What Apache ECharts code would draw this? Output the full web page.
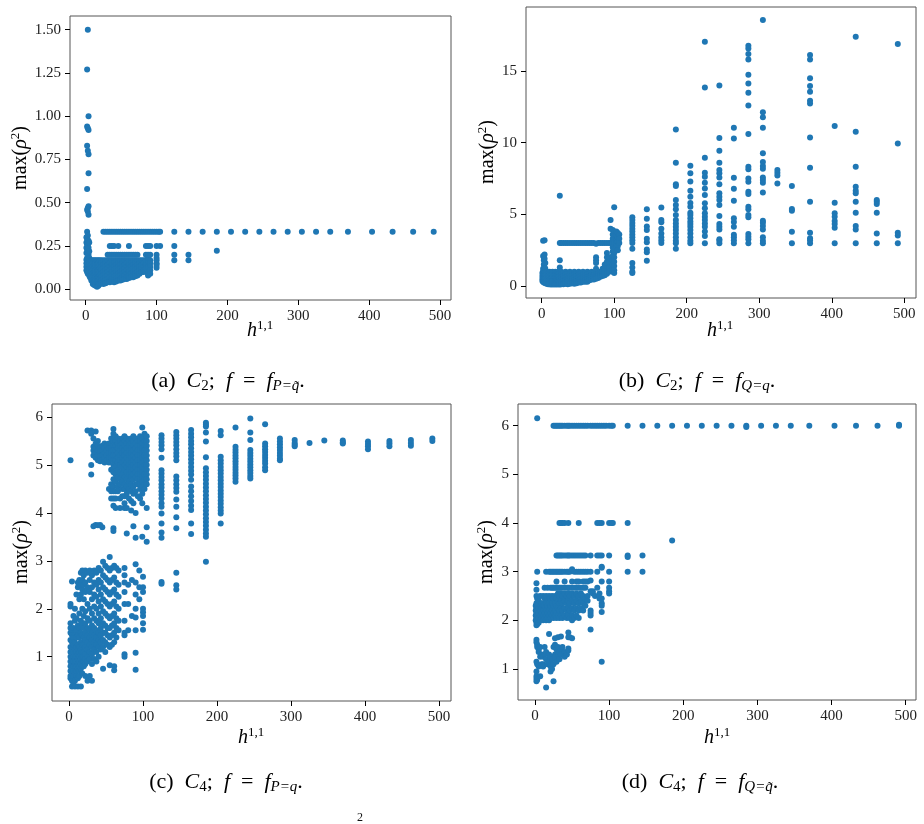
<!DOCTYPE html>
<html>
<head>
<meta charset="utf-8">
<script src="https://cdn.jsdelivr.net/npm/echarts@6/dist/echarts.min.js"></script>
<style>
  html, body { margin: 0; padding: 0; background: #fff; }
  #chart { width: 924px; height: 824px; }
</style>
</head>
<body>
<div id="chart"></div>
<script>
// each entry: [h11, [max(rho^2) values seen in that column]]
const colsA = [
  [1, [0.30, 0.27, 0.24, 0.21, 0.17, 0.15, 0.13, 0.11]],
  [2, [1.27, 0.94, 0.83, 0.58, 0.46, 0.333, 0.29, 0.26, 0.22, 0.18, 0.16, 0.14, 0.12, 0.10]],
  [3, [1.50, 0.93, 0.80, 0.47, 0.45, 0.31, 0.25, 0.21, 0.17, 0.15, 0.13, 0.11, 0.09]],
  [4, [1.00, 0.92, 0.78, 0.67, 0.48, 0.43, 0.28, 0.24, 0.20, 0.167, 0.14, 0.12, 0.10]],
  [5, [0.27, 0.22, 0.18, 0.16, 0.14, 0.12, 0.10, 0.08]],
  [6, [0.167, 0.15, 0.13, 0.11, 0.09, 0.07]],
  [8, [0.167, 0.14, 0.12, 0.10, 0.08, 0.06, 0.05]],
  [10, [0.167, 0.15, 0.13, 0.11, 0.09, 0.07, 0.05, 0.03]],
  [12, [0.167, 0.14, 0.12, 0.10, 0.08, 0.06, 0.04, 0.025]],
  [14, [0.167, 0.15, 0.13, 0.11, 0.09, 0.07, 0.05, 0.03, 0.02]],
  [16, [0.167, 0.14, 0.12, 0.10, 0.08, 0.06, 0.04, 0.015]],
  [18, [0.167, 0.15, 0.13, 0.11, 0.09, 0.07, 0.05, 0.03, 0.02]],
  [20, [0.167, 0.14, 0.12, 0.10, 0.08, 0.06, 0.04, 0.03]],
  [22, [0.167, 0.15, 0.13, 0.11, 0.09, 0.07, 0.05, 0.035]],
  [25, [0.333, 0.167, 0.14, 0.12, 0.10, 0.08, 0.06, 0.04, 0.03]],
  [28, [0.333, 0.167, 0.15, 0.13, 0.11, 0.09, 0.07, 0.05, 0.035]],
  [31, [0.333, 0.20, 0.167, 0.14, 0.12, 0.10, 0.08, 0.06, 0.04]],
  [34, [0.333, 0.25, 0.20, 0.167, 0.15, 0.13, 0.11, 0.09, 0.07, 0.05, 0.04]],
  [37, [0.333, 0.25, 0.20, 0.167, 0.14, 0.12, 0.10, 0.08, 0.06, 0.045]],
  [40, [0.333, 0.25, 0.20, 0.167, 0.15, 0.13, 0.11, 0.09, 0.07, 0.05, 0.04]],
  [43, [0.333, 0.20, 0.167, 0.14, 0.12, 0.10, 0.08, 0.06, 0.045]],
  [46, [0.333, 0.25, 0.20, 0.167, 0.15, 0.13, 0.11, 0.09, 0.07, 0.05]],
  [49, [0.333, 0.20, 0.167, 0.14, 0.12, 0.10, 0.08, 0.06, 0.05]],
  [52, [0.333, 0.20, 0.167, 0.15, 0.13, 0.11, 0.09, 0.07, 0.055]],
  [55, [0.333, 0.20, 0.167, 0.14, 0.12, 0.10, 0.08, 0.06]],
  [58, [0.333, 0.20, 0.167, 0.15, 0.13, 0.11, 0.09, 0.07, 0.06]],
  [61, [0.333, 0.25, 0.20, 0.167, 0.14, 0.12, 0.10, 0.08, 0.065]],
  [64, [0.333, 0.20, 0.167, 0.15, 0.13, 0.11, 0.09, 0.07]],
  [67, [0.333, 0.20, 0.167, 0.14, 0.12, 0.10, 0.08, 0.07]],
  [70, [0.333, 0.20, 0.167, 0.15, 0.13, 0.11, 0.09, 0.075]],
  [73, [0.333, 0.20, 0.167, 0.14, 0.12, 0.10, 0.08]],
  [76, [0.333, 0.167, 0.15, 0.13, 0.11, 0.09]],
  [79, [0.333, 0.167, 0.14, 0.12, 0.10]],
  [82, [0.333, 0.167, 0.15, 0.13, 0.11, 0.10]],
  [85, [0.333, 0.25, 0.20, 0.167, 0.14, 0.12]],
  [88, [0.333, 0.25, 0.20, 0.18, 0.167, 0.15, 0.13, 0.09, 0.08]],
  [91, [0.333, 0.25, 0.20, 0.167, 0.15, 0.13, 0.11, 0.09]],
  [94, [0.333]],
  [97, [0.333]],
  [100, [0.333, 0.25, 0.20, 0.18, 0.167, 0.15, 0.14, 0.125]],
  [103, [0.333]],
  [105, [0.333, 0.25]],
  [125, [0.333, 0.25, 0.20, 0.167]],
  [145, [0.333, 0.20, 0.167]],
  [165, [0.333]],
  [185, [0.333, 0.222]],
  [205, [0.333]], [225, [0.333]], [245, [0.333]], [265, [0.333]],
  [285, [0.333]], [305, [0.333]], [325, [0.333]], [345, [0.333]],
  [370, [0.333]], [404, [0.333]], [433, [0.333]], [462, [0.333]], [491, [0.333]]
];

const colsB = [
  [1, [0.9, 0.7, 0.5, 0.35]],
  [2, [3.15, 2.1, 1.2, 1.0, 0.8, 0.6, 0.45, 0.3]],
  [3, [2.0, 1.8, 1.5, 1.1, 0.9, 0.7, 0.5, 0.35, 0.25]],
  [4, [3.2, 2.2, 1.9, 1.3, 1.0, 0.8, 0.6, 0.4, 0.3]],
  [5, [1.6, 1.2, 0.9, 0.7, 0.5, 0.3, 0.2]],
  [7, [1.0, 0.8, 0.6, 0.4, 0.25, 0.15]],
  [9, [0.9, 0.7, 0.5, 0.35, 0.2, 0.12]],
  [11, [1.0, 0.8, 0.6, 0.4, 0.25, 0.12]],
  [13, [0.9, 0.7, 0.5, 0.35, 0.2, 0.1]],
  [15, [1.0, 0.8, 0.6, 0.4, 0.25, 0.12]],
  [17, [0.9, 0.7, 0.5, 0.35, 0.2, 0.1]],
  [19, [1.0, 0.8, 0.6, 0.4, 0.25, 0.12]],
  [21, [0.9, 0.7, 0.5, 0.35, 0.2, 0.1]],
  [23, [1.0, 0.8, 0.6, 0.4, 0.25, 0.12]],
  [25, [6.3, 3.0, 1.8, 1.3, 0.9, 0.7, 0.5, 0.35, 0.2, 0.1]],
  [27, [3.0, 1.0, 0.8, 0.6, 0.4, 0.25, 0.12]],
  [30, [3.0, 0.9, 0.7, 0.5, 0.35, 0.2, 0.12]],
  [33, [3.0, 1.0, 0.8, 0.6, 0.4, 0.25, 0.15]],
  [36, [3.0, 0.9, 0.7, 0.5, 0.35, 0.2, 0.12]],
  [39, [3.0, 1.0, 0.8, 0.6, 0.4, 0.25, 0.15]],
  [42, [3.0, 0.9, 0.7, 0.5, 0.35, 0.2]],
  [45, [3.0, 1.0, 0.8, 0.6, 0.4, 0.25, 0.15]],
  [48, [3.0, 0.9, 0.7, 0.5, 0.35, 0.2]],
  [51, [3.0, 1.0, 0.8, 0.6, 0.4, 0.25]],
  [54, [3.0, 0.9, 0.7, 0.5, 0.35, 0.25]],
  [57, [3.0, 1.0, 0.8, 0.6, 0.45, 0.3]],
  [60, [3.0, 0.9, 0.7, 0.55, 0.4, 0.3]],
  [63, [3.0, 1.0, 0.8, 0.6, 0.45, 0.3]],
  [66, [3.0, 0.9, 0.7, 0.55, 0.4]],
  [69, [3.0, 1.0, 0.8, 0.6, 0.45]],
  [72, [3.0, 0.9, 0.75, 0.6, 0.45]],
  [75, [2.95, 2.0, 1.8, 1.6, 1.2, 1.0, 0.8, 0.65, 0.5]],
  [78, [3.0, 1.0, 0.85, 0.7, 0.55]],
  [81, [3.0, 1.0, 0.8, 0.65]],
  [84, [3.0, 1.2, 1.0, 0.8, 0.7]],
  [87, [3.0, 1.5, 1.3, 1.1, 0.9, 0.75]],
  [90, [3.0, 2.3, 2.0, 1.7, 1.5, 1.2, 1.0, 0.85]],
  [93, [3.0, 2.0, 1.6, 1.3, 1.0]],
  [95, [4.6, 4.0, 3.0]],
  [98, [3.9, 3.6, 3.3, 3.0, 2.7, 2.4, 2.1, 1.8, 1.5, 1.2, 1.0]],
  [100, [5.5, 3.8, 3.5, 3.2, 3.0, 2.6, 2.3, 2.0, 1.7, 1.4, 1.1, 0.9]],
  [103, [3.8, 3.5, 3.2, 3.0, 2.8]],
  [105, [3.7, 3.4, 3.1, 2.8, 2.5]],
  [107, [3.6, 3.3, 3.0]],
  [125, [4.8, 4.6, 4.4, 4.2, 4.0, 3.8, 3.6, 3.4, 3.2, 3.0, 2.6, 1.6, 1.3, 1.0, 0.9]],
  [145, [5.35, 4.7, 4.15, 3.9, 3.3, 3.05, 2.55, 2.35, 1.77]],
  [165, [5.47, 4.6, 4.45, 4.0, 3.67, 3.4, 3.2, 3.0]],
  [185, [10.93, 8.6, 7.1, 6.98, 6.0, 5.65, 5.35, 4.95, 4.6, 4.37, 4.14, 3.9, 3.67, 3.4, 3.16, 2.98, 2.6]],
  [205, [8.4, 7.86, 7.3, 6.65, 6.23, 5.8, 5.53, 5.12, 4.95, 4.72, 4.5, 4.33, 4.14, 3.9, 3.67, 3.4, 3.16, 2.98]],
  [225, [17.05, 13.86, 8.95, 7.9, 7.63, 7.2, 6.8, 6.35, 5.77, 5.42, 5.07, 4.84, 4.6, 4.37, 4.14, 3.81, 3.49, 2.98]],
  [245, [14.0, 10.33, 9.44, 8.6, 8.1, 7.86, 7.58, 7.1, 6.47, 6.23, 6.0, 5.65, 4.88, 4.33, 4.14, 3.95, 3.26, 3.16, 2.98]],
  [265, [11.05, 10.3, 7.56, 6.79, 5.95, 4.72, 4.47, 4.14, 3.58, 3.4, 3.2, 2.98]],
  [285, [16.77, 16.58, 16.19, 15.81, 14.74, 14.14, 13.49, 12.6, 10.6, 8.33, 8.14, 7.5, 7.28, 6.58, 6.42, 5.53, 5.35, 4.95, 4.79, 3.63, 3.44, 3.26, 2.98]],
  [305, [18.56, 12.12, 11.77, 11.05, 9.26, 8.65, 8.37, 8.19, 7.58, 7.4, 7.21, 6.53, 4.56, 4.42, 4.19, 3.95, 3.4, 3.16, 2.98]],
  [325, [8.09, 7.9, 7.72, 7.16]],
  [345, [6.98, 5.37, 5.26, 3.79, 2.98]],
  [370, [16.12, 15.81, 14.49, 13.95, 13.56, 12.93, 12.74, 10.37, 8.26, 5.88, 3.72, 3.33, 3.2, 2.98]],
  [404, [11.16, 5.81, 5.07, 4.84, 4.53, 4.33, 4.07, 2.98]],
  [433, [17.4, 10.77, 8.33, 6.93, 6.65, 6.47, 5.88, 5.12, 4.19, 3.95, 2.98]],
  [462, [6.0, 5.88, 5.72, 5.12, 3.67, 2.98]],
  [491, [16.88, 9.95, 3.72, 3.53, 2.98]]
];

const colsC = [
  [2, [5.1, 2.1, 2.05, 1.7, 1.6, 1.5, 1.35, 1.2, 1.1, 1.0, 0.9, 0.8, 0.7, 0.6, 0.55]],
  [4, [2.57, 1.55, 1.45, 1.3, 1.15, 1.05, 0.95, 0.85, 0.75, 0.65, 0.5, 0.38]],
  [6, [1.85, 1.6, 1.4, 1.25, 1.1, 1.0, 0.9, 0.8, 0.7, 0.6, 0.45]],
  [8, [2.0, 1.75, 1.5, 1.3, 1.15, 1.05, 0.95, 0.85, 0.75, 0.65, 0.5, 0.38]],
  [10, [2.3, 1.8, 1.55, 1.4, 1.2, 1.1, 1.0, 0.9, 0.8, 0.7, 0.6]],
  [12, [2.55, 2.45, 1.65, 1.45, 1.25, 1.15, 1.05, 0.95, 0.85, 0.75, 0.55, 0.38]],
  [14, [2.6, 2.2, 1.9, 1.6, 1.4, 1.2, 1.1, 1.0, 0.9, 0.8, 0.7, 0.6]],
  [16, [2.75, 2.5, 2.3, 1.75, 1.5, 1.3, 1.15, 1.05, 0.95, 0.85, 0.75, 0.38]],
  [18, [2.8, 2.6, 2.4, 2.0, 1.7, 1.45, 1.25, 1.1, 1.0, 0.9, 0.8, 0.65]],
  [20, [2.7, 2.5, 2.2, 1.85, 1.6, 1.4, 1.25, 1.1, 1.0, 0.9, 0.8]],
  [22, [2.8, 2.55, 2.35, 1.95, 1.7, 1.5, 1.35, 1.2, 1.05, 0.95, 0.85, 0.6]],
  [25, [5.72, 2.75, 2.45, 2.1, 1.8, 1.6, 1.45, 1.3, 1.15, 1.0, 0.9, 0.5]],
  [28, [2.8, 2.6, 2.35, 2.0, 1.75, 1.55, 1.4, 1.25, 1.1, 0.95, 0.6]],
  [30, [5.72, 5.65, 5.0, 4.8]],
  [31, [2.7, 2.45, 2.2, 1.9, 1.65, 1.5, 1.35, 1.2, 1.05, 0.85, 0.5]],
  [33, [5.55, 5.38, 5.3, 5.2, 3.72]],
  [34, [2.8, 2.55, 2.3, 2.05, 1.8, 1.6, 1.45, 1.3, 1.15, 0.95]],
  [36, [5.7, 5.45, 5.35, 5.25, 5.15, 3.75]],
  [37, [2.75, 2.5, 2.25, 2.0, 1.75, 1.55, 1.4, 1.25, 1.1, 0.9]],
  [39, [5.5, 5.4, 5.3, 5.2, 5.1, 3.74]],
  [40, [2.85, 2.6, 2.4, 2.15, 1.9, 1.7, 1.5, 1.35, 1.2, 1.0]],
  [42, [5.35, 5.28, 5.18, 5.08, 3.75]],
  [43, [2.8, 2.55, 2.3, 2.05, 1.8, 1.6, 1.45, 1.3, 1.15]],
  [45, [5.4, 5.3, 5.2, 5.1, 3.7]],
  [46, [2.98, 2.7, 2.45, 2.2, 1.95, 1.7, 1.5, 1.35, 1.2, 0.75]],
  [48, [5.45, 5.35, 5.25, 5.15, 5.05]],
  [49, [2.9, 2.65, 2.4, 2.15, 1.9, 1.65, 1.5, 1.3, 1.1]],
  [51, [5.4, 5.3, 5.2, 5.1]],
  [52, [2.85, 2.6, 2.35, 2.1, 1.85, 1.6, 1.45, 1.25]],
  [54, [5.45, 5.35, 5.25, 5.15, 5.05, 4.5]],
  [55, [3.08, 2.8, 2.55, 2.3, 2.05, 1.8, 1.6, 1.4, 1.2, 0.82]],
  [57, [5.55, 5.45, 5.35, 5.25, 5.15, 4.9, 4.6, 4.45, 4.3]],
  [58, [2.85, 2.6, 2.35, 2.1, 1.85, 1.65, 1.45, 1.25]],
  [60, [5.75, 5.65, 5.5, 5.4, 5.3, 5.2, 5.1, 5.0, 4.85, 4.7, 4.55, 4.45, 4.3, 4.15, 3.68, 3.62]],
  [61, [2.9, 2.65, 2.4, 2.15, 1.9, 1.7, 1.5, 1.3, 0.8, 0.72]],
  [63, [5.6, 5.5, 5.4, 5.3, 5.2, 5.1, 4.95, 4.8, 4.65, 4.45, 4.3, 4.1]],
  [64, [2.85, 2.55, 2.3, 2.05, 1.8, 1.6, 1.4]],
  [66, [5.55, 5.45, 5.35, 5.25, 5.15, 5.05, 4.9, 4.75, 4.55, 4.45]],
  [67, [2.8, 2.5, 2.25, 2.0, 1.75, 1.55]],
  [69, [5.5, 5.4, 5.3, 5.2, 5.1, 5.0, 4.85, 4.7, 4.6, 4.3, 4.1]],
  [72, [5.55, 5.45, 5.35, 5.25, 5.15, 5.05, 4.95, 4.8, 4.65, 4.5, 4.35]],
  [75, [5.6, 5.5, 5.4, 5.3, 5.2, 5.1, 5.0, 4.9, 4.75, 4.6, 4.5, 4.35, 4.2, 4.1,
        2.85, 2.7, 2.55, 2.35, 2.1, 1.75, 1.5, 1.45, 1.05, 1.0]],
  [78, [5.55, 5.45, 5.35, 5.25, 5.15, 5.05, 4.95, 4.85, 4.7, 4.55, 4.4, 4.1, 3.57]],
  [80, [2.5, 2.1, 1.55]],
  [81, [5.5, 5.4, 5.3, 5.2, 5.1, 5.0, 4.9, 4.8, 4.65, 4.5, 4.3]],
  [84, [5.55, 5.45, 5.35, 5.25, 5.15, 5.05, 4.95, 4.85, 4.75, 4.6, 4.45, 4.25, 4.05]],
  [85, [2.6, 1.85]],
  [87, [5.6, 5.5, 5.4, 5.3, 5.2, 5.1, 5.0, 4.9, 4.8, 4.7, 4.55, 4.4, 4.2, 3.72]],
  [90, [5.55, 5.45, 5.35, 5.25, 5.15, 5.05, 4.95, 4.85, 4.75, 4.6, 4.45, 4.0, 3.48,
        2.93, 2.55, 2.3, 2.0, 1.82, 1.55, 1.08, 0.73]],
  [93, [5.5, 5.4, 5.3, 5.2, 5.1, 5.0, 4.9, 4.8, 4.7, 4.6, 4.35]],
  [95, [2.8, 2.45, 2.2]],
  [96, [5.6, 5.5, 5.4, 5.3, 5.2, 5.1, 5.0, 4.9, 4.8, 4.7, 4.6, 4.5, 4.3]],
  [99, [5.78, 5.55, 5.45, 5.35, 5.25, 5.15, 5.05, 4.95, 4.85, 4.75, 4.65, 4.55, 4.4, 4.2, 3.5]],
  [100, [2.67, 2.45, 2.35, 2.0, 1.93, 1.85, 1.7, 1.56]],
  [102, [5.65, 5.5, 5.4, 5.3, 5.2, 5.1, 5.0, 4.9, 4.8, 4.7, 4.6, 4.5]],
  [105, [5.6, 5.5, 5.4, 5.3, 5.2, 5.1, 5.0, 4.9, 4.8, 4.7, 4.6, 4.1, 3.7, 3.4]],
  [125, [5.62, 5.55, 5.48, 5.41, 5.33, 5.15, 4.89, 4.82, 4.75, 4.68, 4.6, 4.53, 4.45, 4.38, 4.3, 4.2, 4.13, 3.99, 3.78, 3.59, 3.48, 2.56, 2.52]],
  [145, [5.69, 5.62, 5.55, 5.48, 5.41, 5.33, 5.25, 5.18, 5.1, 4.76, 4.68, 4.6, 4.52, 4.44, 4.28, 4.13, 3.91, 3.68, 2.75, 2.49, 2.4]],
  [165, [5.73, 5.65, 5.58, 5.5, 5.43, 5.35, 5.27, 5.2, 5.12, 5.04, 4.96, 4.88, 4.8, 4.69, 4.55, 4.45, 4.35, 4.25, 4.15, 4.06, 3.78, 3.56]],
  [185, [5.88, 5.84, 5.8, 5.68, 5.49, 5.16, 4.93, 4.85, 4.77, 4.69, 4.61, 4.53, 4.45, 4.37, 4.29, 4.21, 4.13, 4.05, 3.97, 3.89, 3.81, 3.73, 3.65, 3.57, 3.5, 2.98]],
  [205, [5.71, 5.62, 5.17, 5.1, 5.03, 4.96, 4.89, 4.82, 4.75, 4.68, 4.61, 4.54, 4.47, 4.4, 4.33, 4.26, 4.19, 4.12, 4.05, 3.99, 3.78]],
  [225, [5.78, 5.38, 5.32, 5.26, 5.2, 5.14, 5.08, 5.02, 4.96, 4.9, 4.84, 4.78, 4.72, 4.65]],
  [245, [5.97, 5.68, 5.52, 5.31, 5.25, 5.19, 5.13, 5.07, 5.01, 4.95, 4.89, 4.83, 4.77, 4.72]],
  [265, [5.85, 5.45, 5.39, 5.33, 5.27, 5.21, 5.15, 5.09, 5.03, 4.95, 4.89]],
  [285, [5.55, 5.49, 5.43, 5.37, 5.31, 5.25, 5.19, 5.13, 5.1]],
  [305, [5.52, 5.46, 5.42, 5.39]],
  [325, [5.46]],
  [345, [5.51]],
  [370, [5.51, 5.47, 5.45]],
  [404, [5.49, 5.44, 5.39, 5.33]],
  [433, [5.5, 5.45, 5.39]],
  [462, [5.52, 5.46, 5.4]],
  [491, [5.55, 5.5]]
];

const colsD = [
  [1, [2.3, 2.2, 2.1, 2.0]],
  [2, [2.76, 2.63, 2.5, 2.35, 2.25, 2.15, 2.05, 1.95, 1.9, 1.6, 1.55, 1.15, 0.95, 0.85, 0.8, 0.75]],
  [3, [6.15, 3.0, 2.45, 2.3, 2.2, 2.1, 2.0, 1.92, 1.5, 1.45, 1.1, 0.78]],
  [5, [2.4, 2.25, 2.15, 2.05, 1.95, 1.4, 1.35, 1.05]],
  [7, [2.5, 2.3, 2.2, 2.1, 2.0, 1.45, 1.25, 0.85]],
  [9, [2.35, 2.25, 2.15, 2.05, 1.3, 1.1]],
  [11, [2.5, 2.3, 2.2, 2.1, 2.0, 1.25, 1.1, 1.05]],
  [13, [2.67, 2.45, 2.3, 2.15, 2.05, 1.45, 1.3]],
  [15, [3.0, 2.5, 2.35, 2.2, 2.1, 2.0, 1.35, 1.2, 0.62]],
  [17, [2.67, 2.45, 2.3, 2.15, 2.05, 1.1]],
  [19, [3.0, 2.5, 2.35, 2.2, 2.1, 2.0, 1.72, 1.3, 1.15]],
  [21, [3.0, 2.67, 2.45, 2.3, 2.15, 2.05, 1.25, 1.05, 0.95]],
  [23, [3.0, 2.67, 2.5, 2.35, 2.2, 2.1, 1.2, 1.0]],
  [25, [6.0, 3.0, 2.67, 2.45, 2.3, 2.15, 2.05, 1.45, 1.1, 0.75]],
  [27, [6.0, 3.0, 2.67, 2.5, 2.35, 2.2, 2.1, 1.63, 1.5, 1.3, 1.25]],
  [29, [6.0, 3.333, 3.0, 2.8, 2.67, 2.45, 2.3, 2.15, 2.05, 1.4, 1.15]],
  [31, [6.0, 3.333, 3.0, 2.67, 2.55, 2.4, 2.25, 2.1, 1.65, 1.45, 1.3]],
  [33, [6.0, 4.0, 3.333, 3.0, 2.67, 2.5, 2.35, 2.2, 2.05, 1.35, 1.2]],
  [35, [6.0, 4.0, 3.333, 3.0, 2.67, 2.55, 2.4, 2.25, 2.1, 1.67, 1.4, 1.3]],
  [37, [6.0, 4.0, 3.333, 3.0, 2.67, 2.5, 2.35, 2.2, 2.05, 1.45]],
  [40, [6.0, 4.0, 3.333, 3.0, 2.8, 2.67, 2.55, 2.4, 2.25, 2.1, 1.35, 1.25]],
  [43, [6.0, 3.333, 3.0, 2.67, 2.5, 2.35, 2.2, 2.05, 1.3]],
  [45, [6.0, 4.0, 3.333, 3.0, 2.67, 2.55, 2.4, 2.25, 2.1, 1.75, 1.65, 1.42, 1.38]],
  [47, [6.0, 3.333, 3.0, 2.67, 2.5, 2.35, 2.2, 2.05, 1.65]],
  [50, [6.0, 3.333, 3.05, 2.8, 2.67, 2.55, 2.4, 2.25, 2.1, 2.0, 1.63]],
  [53, [6.0, 3.333, 3.0, 2.67, 2.5, 2.35, 2.2, 2.05]],
  [56, [6.0, 3.333, 3.0, 2.8, 2.67, 2.55, 2.4, 2.25, 2.1]],
  [59, [6.0, 4.0, 3.333, 3.0, 2.8, 2.67, 2.5, 2.35, 2.2, 2.05]],
  [62, [6.0, 3.333, 3.0, 2.67, 2.55, 2.4, 2.25]],
  [65, [6.0, 3.333, 3.0, 2.8, 2.67, 2.5, 2.35, 2.2]],
  [68, [6.0, 3.333, 3.0, 2.8, 2.67, 2.45, 2.3]],
  [71, [6.0, 3.0, 2.8, 2.5, 2.4]],
  [75, [6.0, 3.333, 3.0, 2.82, 2.6, 2.2, 2.15, 2.1, 1.81]],
  [78, [6.0, 2.6, 2.55]],
  [81, [6.0, 2.5]],
  [84, [6.0, 4.0, 3.333, 3.0, 2.67]],
  [87, [6.0, 4.0, 3.333, 2.55, 2.45]],
  [90, [6.0, 4.0, 3.333, 3.1, 3.08, 2.8, 2.45, 2.35, 2.3, 2.17, 1.15]],
  [93, [6.0]],
  [96, [6.0]],
  [100, [6.0, 4.0, 3.333, 3.0, 2.8, 2.67, 2.6, 2.55]],
  [103, [6.0, 4.0]],
  [105, [6.0, 4.0]],
  [125, [6.0, 4.0, 3.333, 3.3, 3.0]],
  [145, [6.0, 3.333, 3.0]],
  [165, [6.0]],
  [185, [6.0, 3.64]],
  [205, [6.0]], [225, [6.0]], [245, [6.0]], [265, [6.0]],
  [285, [6.0, 5.97]], [305, [6.0]], [325, [6.0]], [345, [6.0]],
  [370, [6.0]], [404, [6.0]], [433, [6.0]], [462, [6.0]], [491, [6.02, 6.0]]
];

const xTicks = [0, 100, 200, 300, 400, 500];
const yTicksA = [0, 0.25, 0.5, 0.75, 1.0, 1.25, 1.5];
const yTicksB = [0, 5, 10, 15];
const yTicksC = [1, 2, 3, 4, 5, 6];
const yTicksD = [1, 2, 3, 4, 5, 6];
const captions = ['(a)', '(b)', '(c)', '(d)'];

const SERIF = "'Liberation Serif', 'DejaVu Serif', serif";
const BLUE = '#1f77b4';

const toPoints = cols => cols.flatMap(([x, ys]) => ys.map(y => [x, y]));

// panel frames, matched to the picture
const panels = [
  { grid: { left: 70, top: 16, width: 381, height: 284 }, x: [-22.15, 515.4], y: [-0.062, 1.579], yt: yTicksA, fmt: v => v.toFixed(2), cols: colsA },
  { grid: { left: 526, top: 7, width: 390, height: 291 }, x: [-21.6, 516.1], y: [-0.837, 19.47], yt: yTicksB, fmt: v => String(v), cols: colsB },
  { grid: { left: 52, top: 404, width: 399, height: 297 }, x: [-23, 516.2], y: [0.076, 6.272], yt: yTicksC, fmt: v => String(v), cols: colsC },
  { grid: { left: 518, top: 404, width: 398, height: 296 }, x: [-22.9, 513.9], y: [0.363, 6.445], yt: yTicksD, fmt: v => String(v), cols: colsD }
];

const tickLabel = { fontFamily: SERIF, fontSize: 15, color: '#222' };

const rich = {
  r: { fontFamily: SERIF, fontSize: 20, color: '#111', lineHeight: 24 },
  i: { fontFamily: SERIF, fontSize: 20, fontStyle: 'italic', color: '#111', lineHeight: 24 },
  sup: { fontFamily: SERIF, fontSize: 13, color: '#111', lineHeight: 13, verticalAlign: 'top' },
  sub: { fontFamily: SERIF, fontSize: 13, color: '#111', lineHeight: 13, verticalAlign: 'bottom' },
  subi: { fontFamily: SERIF, fontSize: 13, fontStyle: 'italic', color: '#111', lineHeight: 13, verticalAlign: 'bottom' },
  cr: { fontFamily: SERIF, fontSize: 22, color: '#111', lineHeight: 26 },
  ci: { fontFamily: SERIF, fontSize: 22, fontStyle: 'italic', color: '#111', lineHeight: 26 },
  cs: { fontFamily: SERIF, fontSize: 15, color: '#111', lineHeight: 14, verticalAlign: 'bottom' },
  csi: { fontFamily: SERIF, fontSize: 15, fontStyle: 'italic', color: '#111', lineHeight: 14, verticalAlign: 'bottom' }
};

function txt(x, y, text, rotation) {
  return {
    type: 'text', x: x, y: y, rotation: rotation || 0, silent: true,
    style: { text: text, rich: rich, align: 'center', verticalAlign: 'middle' }
  };
}

const SP = '\u2002';
function caption(tag, n, subText) {
  return '{cr|' + tag + SP + '}{ci|C}{cs|' + n + '}{cr|;' + SP + '}{ci|f}{cr|' + SP + '=' + SP + '}{ci|f}{csi|' + subText + '}{cr|.}';
}

const yName = '{r|max(}{i|ρ}{sup|2}{r|)}';
const xName = '{i|h}{sup|1,1}';

const graphic = [
  txt(21, 158, yName, Math.PI / 2),
  txt(488, 152, yName, Math.PI / 2),
  txt(22, 552, yName, Math.PI / 2),
  txt(487, 552, yName, Math.PI / 2),
  txt(260, 331, xName),
  txt(720, 331, xName),
  txt(251, 738, xName),
  txt(717, 738, xName),
  txt(228, 381, caption(captions[0], '2', 'P=q\u0303')),
  txt(697, 381, caption(captions[1], '2', 'Q=q')),
  txt(226, 782, caption(captions[2], '4', 'P=q')),
  txt(700, 782, caption(captions[3], '4', 'Q=q\u0303')),
  { type: 'text', x: 357, y: 812, silent: true, style: { text: '2', fontFamily: SERIF, fontSize: 12, fill: '#111' } }
];

const chart = echarts.init(document.getElementById('chart'));

chart.setOption({
  animation: false,
  backgroundColor: '#fff',
  grid: panels.map(p => Object.assign({ show: true, borderColor: '#555', borderWidth: 1, backgroundColor: 'transparent' }, p.grid)),
  xAxis: panels.map((p, i) => ({
    type: 'value', gridIndex: i, min: p.x[0], max: p.x[1],
    axisLine: { show: false, onZero: false },
    splitLine: { show: false },
    axisTick: { show: true, length: 5, lineStyle: { color: '#000' }, customValues: xTicks },
    axisLabel: Object.assign({ margin: 9, customValues: xTicks }, tickLabel)
  })),
  yAxis: panels.map((p, i) => ({
    type: 'value', gridIndex: i, min: p.y[0], max: p.y[1],
    axisLine: { show: false, onZero: false },
    splitLine: { show: false },
    axisTick: { show: true, length: 5, lineStyle: { color: '#000' }, customValues: p.yt },
    axisLabel: Object.assign({ margin: 9, customValues: p.yt, formatter: p.fmt }, tickLabel)
  })),
  series: panels.map((p, i) => ({
    type: 'scatter', xAxisIndex: i, yAxisIndex: i,
    symbolSize: 6, silent: true,
    itemStyle: { color: BLUE, opacity: 1 },
    data: toPoints(p.cols)
  })),
  graphic: graphic
});
</script>
</body>
</html>
